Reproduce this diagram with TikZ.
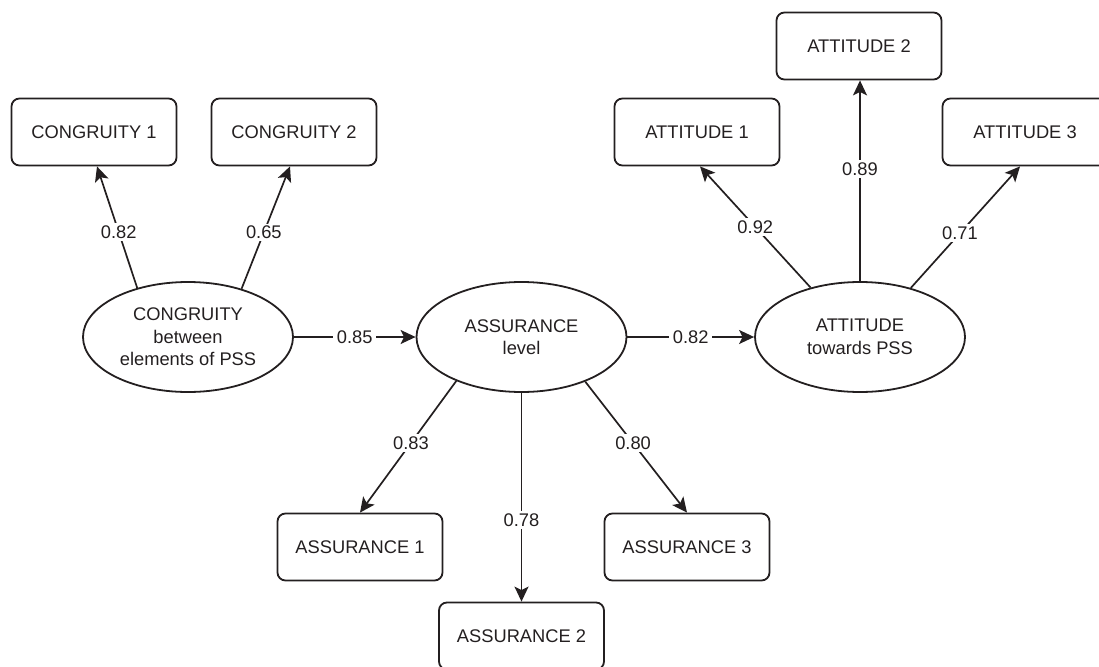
\documentclass[tikz,border=0pt]{standalone}
\usepackage{fontspec}
\setmainfont{Liberation Sans}
\usetikzlibrary{arrows.meta,calc,shapes.geometric}
\definecolor{ink}{HTML}{231F20}
\begin{document}
\begin{tikzpicture}[x=1pt,y=-1pt,
  every node/.style={font=\fontsize{18.3}{22.5}\selectfont, text=ink},
  box/.style={draw=ink, line width=1.8pt, rounded corners=8pt, minimum width=165pt, minimum height=67pt, inner sep=0pt},
  lat/.style={draw=ink, ellipse, line width=1.8pt, minimum width=210pt, minimum height=110pt, inner sep=0pt, align=center},
  arr/.style={draw=ink, line width=1.7pt, -{Stealth[length=15pt,width=14pt,inset=3.5pt]}},
  lbl/.style={fill=white, inner xsep=3.5pt, inner ysep=2.5pt}]
\useasboundingbox (0,0) rectangle (1099,666);
\clip (0,0) rectangle (1099,666);

% latent variables
\node[lat] (cg) at (188,337) {CONGRUITY\\between\\elements of PSS};
\node[lat] (as) at (521.5,337) {ASSURANCE\\level};
\node[lat] (at) at (860,337) {ATTITUDE\\towards PSS};

% indicators
\node[box] (c1) at (94,132) {CONGRUITY 1};
\node[box] (c2) at (294,132) {CONGRUITY 2};
\node[box] (a1) at (697,132) {ATTITUDE 1};
\node[box] (a2) at (859,46) {ATTITUDE 2};
\node[box] (a3) at (1025,132) {ATTITUDE 3};
\node[box] (s1) at (360,547) {ASSURANCE 1};
\node[box] (s2) at (521.5,636) {ASSURANCE 2};
\node[box] (s3) at (687,547) {ASSURANCE 3};

% structural paths
\draw[arr] (cg.east) -- node[lbl]{0.85} (as.west);
\draw[arr] (as.east) -- node[lbl]{0.82} (at.west);

% loadings
\draw[arr] (cg.136) -- node[lbl,pos=0.46]{0.82} ([xshift=3pt]c1.south);
\draw[arr] (cg.42) -- node[lbl,pos=0.46]{0.65} ([xshift=-4pt]c2.south);
\draw[arr] (at.135) -- node[lbl,pos=0.5]{0.92} ([xshift=3pt]a1.south);
\draw[arr] (at.90) -- node[lbl,pos=0.56]{0.89} ([xshift=1pt]a2.south);
\draw[arr] (at.44) -- node[lbl,pos=0.45]{0.71} ([xshift=-5pt]a3.south);
\draw[arr] (as.214) -- node[lbl,pos=0.47]{0.83} (s1.north);
\draw[arr] (as.270) -- node[lbl,pos=0.61]{0.78} (s2.north);
\draw[arr] (as.325) -- node[lbl,pos=0.47]{0.80} (s3.north);
\end{tikzpicture}
\end{document}
